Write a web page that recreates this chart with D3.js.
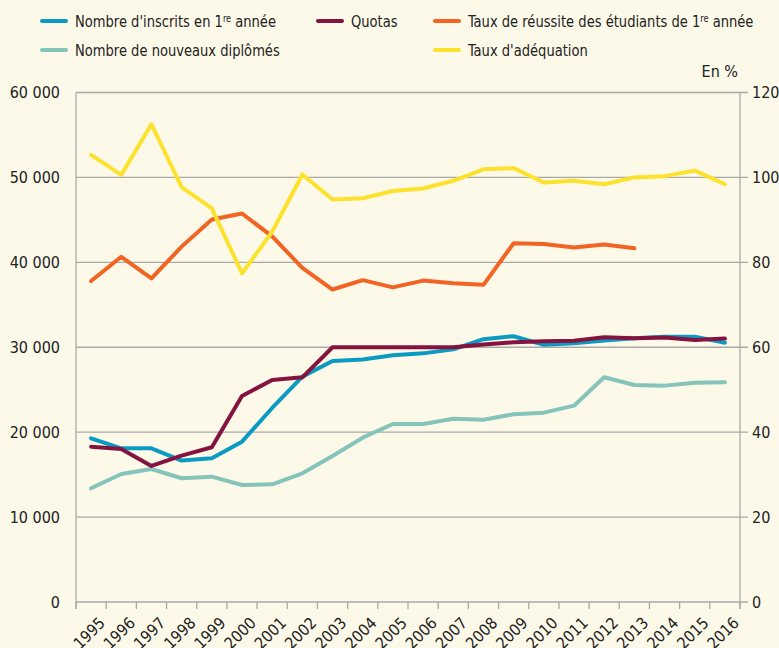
<!DOCTYPE html>
<html>
<head>
<meta charset="utf-8">
<script src="https://cdn.jsdelivr.net/npm/d3@7/dist/d3.min.js"></script>
<style>
  html, body { margin: 0; padding: 0; background: #fdf9e9; }
  svg { display: block; }
  text { font-family: "Liberation Sans Narrow", "DejaVu Sans Condensed", sans-serif; fill: #222; }
</style>
</head>
<body>
<div id="chart"></div>
<script>
// années
const years = d3.range(1995, 2017);

// nombre d'inscrits en 1re année (axe gauche)
const inscrits = [19280, 18100, 18100, 16650, 16930, 18880, 22850, 26540, 28380, 28550, 29050, 29280,
                  29750, 30950, 31300, 30280, 30470, 30780, 31060, 31250, 31250, 30540];
// quotas (axe gauche)
const quotas = [18290, 18020, 16020, 17230, 18220, 24260, 26150, 26460, 30000, 30000, 30000, 30000,
                30000, 30330, 30590, 30700, 30760, 31170, 31060, 31140, 30860, 31020];
// nombre de nouveaux diplômés (axe gauche)
const diplomes = [13390, 15080, 15660, 14570, 14760, 13780, 13860, 15150, 17200, 19350, 20960, 20960,
                  21590, 21470, 22110, 22300, 23120, 26460, 25560, 25480, 25830, 25870];
// taux de réussite des étudiants de 1re année, en % (axe droit) — s'arrête en 2013
const reussite = [75.6, 81.3, 76.2, 83.7, 90.1, 91.5, 86.1, 78.7, 73.6, 75.8, 74.1, 75.7,
                  75.1, 74.7, 84.5, 84.3, 83.5, 84.2, 83.3, null, null, null];
// taux d'adéquation, en % (axe droit)
const adequation = [105.3, 100.6, 112.5, 97.7, 92.7, 77.4, 87.2, 100.7, 94.8, 95.1, 96.8, 97.4,
                    99.2, 101.9, 102.2, 98.8, 99.2, 98.4, 100.0, 100.3, 101.6, 98.4];

const leftTicks = [0, 10000, 20000, 30000, 40000, 50000, 60000];
const rightTicks = [0, 20, 40, 60, 80, 100, 120];

const width = 779, height = 648;
const margin = {left: 76, right: 39, top: 92.5, bottom: 46};

const svg = d3.select("#chart").append("svg")
    .attr("width", width)
    .attr("height", height)
    .attr("viewBox", [0, 0, width, height]);

svg.append("rect").attr("width", width).attr("height", height).attr("fill", "#fdf9e9");

const x = d3.scaleBand()
    .domain(years)
    .range([margin.left, width - margin.right]);

const yL = d3.scaleLinear()
    .domain([0, 60000])
    .range([height - margin.bottom, margin.top]);

const yR = d3.scaleLinear()
    .domain([0, 120])
    .range([height - margin.bottom, margin.top]);

const cx = d => x(d) + x.bandwidth() / 2;
const x0 = margin.left, x1 = width - margin.right;
const grey = "#a9a9a9";
const fmt = v => d3.format(",")(v).replace(/,/g, " ");

// grille horizontale
svg.append("g")
  .selectAll("line")
  .data(leftTicks.slice(1))
  .join("line")
    .attr("x1", x0)
    .attr("x2", x1 + 8)
    .attr("y1", d => yL(d))
    .attr("y2", d => yL(d))
    .attr("stroke", grey)
    .attr("stroke-width", 1.3);

// axe des x
const xAxis = svg.append("g");
xAxis.append("line")
    .attr("x1", x0).attr("x2", x1 + 8)
    .attr("y1", yL(0)).attr("y2", yL(0))
    .attr("stroke", grey).attr("stroke-width", 1.3);
xAxis.selectAll("line.tick")
  .data(years.concat([2017]))
  .join("line")
    .attr("class", "tick")
    .attr("x1", d => d === 2017 ? x1 : x(d))
    .attr("x2", d => d === 2017 ? x1 : x(d))
    .attr("y1", yL(0))
    .attr("y2", yL(0) + 7)
    .attr("stroke", grey).attr("stroke-width", 1.3);
xAxis.selectAll("text")
  .data(years)
  .join("text")
    .attr("transform", d => `translate(${cx(d) + 15},${yL(0) + 22}) rotate(-45)`)
    .attr("text-anchor", "end")
    .attr("font-size", 16)
    .text(d => d);

// axes verticaux
svg.append("line")
    .attr("x1", x0).attr("x2", x0)
    .attr("y1", yL(60000)).attr("y2", yL(0) + 7)
    .attr("stroke", grey).attr("stroke-width", 1.3);
svg.append("line")
    .attr("x1", x1).attr("x2", x1)
    .attr("y1", yR(120)).attr("y2", yR(0) + 7)
    .attr("stroke", grey).attr("stroke-width", 1.3);

svg.append("g")
  .selectAll("text")
  .data(leftTicks)
  .join("text")
    .attr("x", 60)
    .attr("y", d => yL(d))
    .attr("dy", "0.35em")
    .attr("text-anchor", "end")
    .attr("font-size", 16)
    .text(fmt);

svg.append("g")
  .selectAll("text")
  .data(rightTicks)
  .join("text")
    .attr("x", x1 + 12)
    .attr("y", d => yR(d))
    .attr("dy", "0.35em")
    .attr("text-anchor", "start")
    .attr("font-size", 16)
    .text(d => d);

svg.append("text")
    .attr("x", x1 - 2)
    .attr("y", 77)
    .attr("text-anchor", "end")
    .attr("font-size", 16)
    .text("En %");

// séries
const series = [
  {name: "diplomes", values: diplomes, y: yL, color: "#85c4bb"},
  {name: "inscrits", values: inscrits, y: yL, color: "#0a9bc3"},
  {name: "quotas", values: quotas, y: yL, color: "#851340"},
  {name: "reussite", values: reussite, y: yR, color: "#f26424"},
  {name: "adequation", values: adequation, y: yR, color: "#fce22c"}
];

series.forEach(s => {
  const line = d3.line()
      .defined(d => d[1] != null)
      .x(d => cx(d[0]))
      .y(d => s.y(d[1]));
  svg.append("path")
      .datum(years.map((yr, i) => [yr, s.values[i]]))
      .attr("fill", "none")
      .attr("stroke", s.color)
      .attr("stroke-width", 4)
      .attr("stroke-linejoin", "round")
      .attr("stroke-linecap", "round")
      .attr("d", line);
});

// légende
const legend = [
  {label: ["Nombre d'inscrits en 1", "re", " année"], color: "#0a9bc3", x: 42, y: 21},
  {label: ["Quotas"], color: "#851340", x: 318, y: 21},
  {label: ["Taux de réussite des étudiants de 1", "re", " année"], color: "#f26424", x: 435, y: 21},
  {label: ["Nombre de nouveaux diplômés"], color: "#85c4bb", x: 42, y: 50},
  {label: ["Taux d'adéquation"], color: "#fce22c", x: 435, y: 50}
];

const lg = svg.append("g")
  .selectAll("g")
  .data(legend)
  .join("g")
    .attr("transform", d => `translate(${d.x},${d.y})`);
lg.append("line")
    .attr("x1", 0).attr("x2", 24)
    .attr("stroke", d => d.color)
    .attr("stroke-width", 4)
    .attr("stroke-linecap", "round");
const lt = lg.append("text")
    .attr("transform", "translate(33,0) scale(0.91,1)")
    .attr("dy", "0.35em")
    .attr("font-size", 16);
lt.each(function(d) {
  const t = d3.select(this);
  d.label.forEach((part, i) => {
    const ts = t.append("tspan").text(part);
    if (i === 1) ts.attr("font-size", 10).attr("dy", -5);
    if (i === 2) ts.attr("dy", 5);
  });
});
</script>
</body>
</html>
